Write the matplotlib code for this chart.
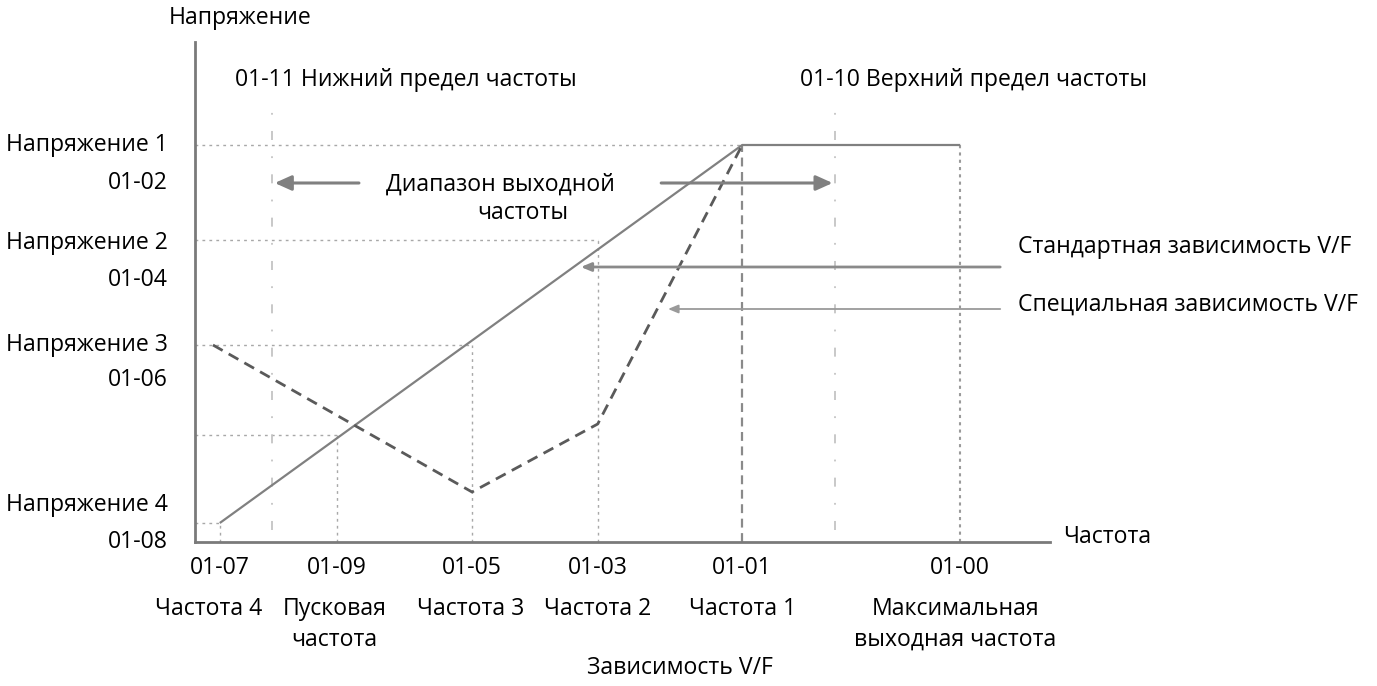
import matplotlib
matplotlib.use('Agg')
import matplotlib.pyplot as plt
from matplotlib.transforms import blended_transform_factory

plt.rcParams['font.family'] = ['Open Sans', 'DejaVu Sans']

# частоты (условные единицы по оси X)
freq_labels = ['01-07', '01-09', '01-05', '01-03', '01-01', '01-00']
freq_names = ['Частота 4', 'Пусковая\nчастота', 'Частота 3', 'Частота 2',
              'Частота 1', 'Максимальная\nвыходная частота']
f4, f_start, f3, f2, f1, f_max = 2.9, 16.6, 32.4, 47.1, 64.0, 89.5
freq_points = [f4, f_start, f3, f2, f1, f_max]
f_low, f_high = 9.0, 74.9

# напряжения (условные единицы по оси Y)
v_labels = ['Напряжение 1\n01-02', 'Напряжение 2\n01-04', 'Напряжение 3\n01-06', 'Напряжение 4\n01-08']
V1, V2, V3, V4 = 79.4, 60.4, 39.4, 3.8
v_start = 21.4

# стандартная и специальная зависимость V/F
std_f = [f4, f1, f_max]
std_v = [V4, V1, V1]
spec_f = [2.1, f3, f2, f1]
spec_v = [V3, 10.0, 23.6, V1]

fig = plt.figure(figsize=(13.77, 6.86), dpi=100)
ax = fig.add_axes([195 / 1377, 144 / 686, 855 / 1377, 500 / 686])
ax.set_xlim(0, 100)
ax.set_ylim(0, 100)
ax.set_xticks([])
ax.set_yticks([])
for s in ['top', 'right']:
    ax.spines[s].set_visible(False)
for s in ['left', 'bottom']:
    ax.spines[s].set_color('#7a7a7a')
    ax.spines[s].set_linewidth(2)

grid_c = '#a8a8a8'
dot = (0, (2, 3))
# вспомогательные пунктирные линии
ax.plot([0, f1], [V1, V1], color=grid_c, lw=1, ls=dot)
ax.plot([0, f2], [V2, V2], color=grid_c, lw=1, ls=dot)
ax.plot([0, f3], [V3, V3], color=grid_c, lw=1, ls=dot)
ax.plot([0, f_start], [v_start, v_start], color=grid_c, lw=1, ls=dot)
ax.plot([0, f4], [V4, V4], color=grid_c, lw=1, ls=dot)
ax.plot([f4, f4], [0, V4], color=grid_c, lw=1, ls=dot)
ax.plot([f_start, f_start], [0, v_start], color=grid_c, lw=1, ls=dot)
ax.plot([f3, f3], [0, V3], color=grid_c, lw=1, ls=dot)
ax.plot([f2, f2], [0, V2], color=grid_c, lw=1, ls=dot)
ax.plot([f_max, f_max], [0, V1], color='#9a9a9a', lw=1.5, ls=(0, (1.5, 2)))
ax.plot([f1, f1], [0, V1], color='#8a8a8a', lw=1.6, ls=(0, (4, 2.5)))

# пределы частоты
for fx_ in [f_low, f_high]:
    ax.plot([fx_, fx_], [2.4, 87.4], color='#c4c4c4', lw=1.3, ls=(0, (5, 9, 1, 9)))

# кривые
ax.plot(std_f, std_v, color='#808080', lw=1.6, solid_capstyle='butt')
ax.plot(spec_f, spec_v, color='#5a5a5a', lw=2, ls=(0, (4, 2.5)))

# стрелки диапазона
arr_y = 71.8
ax.annotate('', xy=(f_low, arr_y), xytext=(19.5, arr_y),
            arrowprops=dict(arrowstyle='-|>,head_length=1.0,head_width=0.45', color='#808080', lw=2.2))
ax.annotate('', xy=(f_high, arr_y), xytext=(54.2, arr_y),
            arrowprops=dict(arrowstyle='-|>,head_length=1.0,head_width=0.45', color='#808080', lw=2.2))

# стрелки-указатели
ax.annotate('', xy=(44.8, 55.0), xytext=(94.5, 55.0), annotation_clip=False,
            arrowprops=dict(arrowstyle='-|>,head_length=0.6,head_width=0.25', color='#8a8a8a', lw=2))
ax.annotate('', xy=(55.0, 46.6), xytext=(94.5, 46.6), annotation_clip=False,
            arrowprops=dict(arrowstyle='-|>,head_length=0.6,head_width=0.25', color='#9a9a9a', lw=1.3))

fs = 16.6
H = 686.0


def fy(py):
    return 1 - py / H


def fx(px):
    return px / 1377.0


fig.text(fx(240), fy(18), 'Напряжение', ha='center', va='center', fontsize=fs)
fig.text(fx(235), fy(80), '01-11 Нижний предел частоты', ha='left', va='center', fontsize=fs)
fig.text(fx(800), fy(80), '01-10 Верхний предел частоты', ha='left', va='center', fontsize=fs)
fig.text(fx(500), fy(185), 'Диапазон выходной', ha='center', va='center', fontsize=fs)
fig.text(fx(523), fy(213), 'частоты', ha='center', va='center', fontsize=fs)
fig.text(fx(1018), fy(247), 'Стандартная зависимость V/F', ha='left', va='center', fontsize=fs)
fig.text(fx(1018), fy(305), 'Специальная зависимость V/F', ha='left', va='center', fontsize=fs)
fig.text(fx(1063), fy(537), 'Частота', ha='left', va='center', fontsize=fs)
fig.text(fx(680), fy(668), 'Зависимость V/F', ha='center', va='center', fontsize=fs)

# подписи напряжений слева
v_text_y = [(145, 183), (243, 280), (345, 380), (505, 542)]
for lab, (y1, y2) in zip(v_labels, v_text_y):
    l1, l2 = lab.split('\n')
    fig.text(fx(168), fy(y1), l1, ha='right', va='center', fontsize=fs)
    fig.text(fx(168), fy(y2), l2, ha='right', va='center', fontsize=fs)

# подписи частот снизу
tr = blended_transform_factory(ax.transData, fig.transFigure)
name_dx = [-1.3, -0.3, -0.2, 0.0, 0.0, -0.6]
for lab, name, xv, dx in zip(freq_labels, freq_names, freq_points, name_dx):
    ax.text(xv, fy(568), lab, transform=tr, ha='center', va='center', fontsize=fs, clip_on=False)
    for i, line in enumerate(name.split('\n')):
        ax.text(xv + dx, fy(609 + 31 * i), line, transform=tr, ha='center', va='center',
                fontsize=fs, clip_on=False)

fig.savefig('out.png', dpi=100)
